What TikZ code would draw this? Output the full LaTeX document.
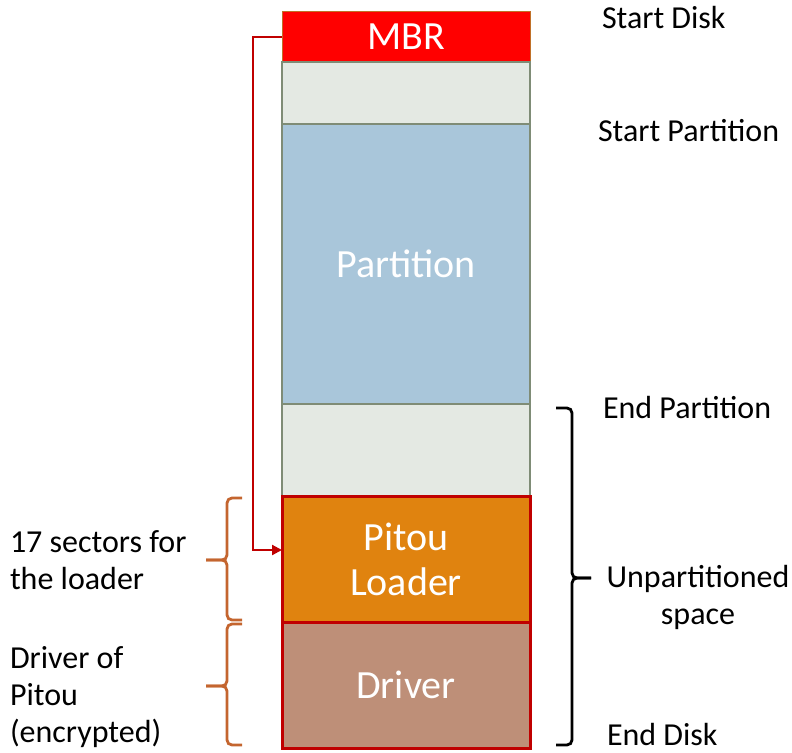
\documentclass[tikz,border=0pt]{standalone}
\usepackage{fontspec}
\setmainfont{Carlito}
\usetikzlibrary{positioning, arrows.meta}

\definecolor{mbrred}{HTML}{FF0000}
\definecolor{mbredge}{HTML}{C07028}
\definecolor{gapgray}{HTML}{E4E9E3}
\definecolor{gapedge}{HTML}{7F8C76}
\definecolor{partblue}{HTML}{A9C6DA}
\definecolor{loaderorange}{HTML}{E0830F}
\definecolor{driverbrown}{HTML}{BE8F78}
\definecolor{darkred}{HTML}{C00000}
\definecolor{bracebrown}{HTML}{C4652F}

\begin{document}
\begin{tikzpicture}[
    x=1pt, y=-1pt,
    every node/.style={outer sep=0pt, inner sep=0pt},
    block/.style={draw, minimum width=248pt, text=white,
        font=\fontsize{40}{45}\selectfont, align=center},
    mbrbox/.style={block, fill=mbrred, draw=mbredge, line width=1pt},
    gapbox/.style={block, fill=gapgray, draw=gapedge, line width=1.2pt},
    partbox/.style={block, fill=partblue, draw=gapedge, line width=1.2pt},
    pitoubox/.style={block, line width=3pt, draw=darkred},
    label/.style={font=\fontsize{32}{37}\selectfont, align=left, anchor=west},
    sidebrace/.style={line width=2.8pt, rounded corners=5pt}
]
    \useasboundingbox (0,0) rectangle (792,752);

    % Disk layout, top to bottom
    \node[mbrbox, anchor=north west, minimum height=50pt] (mbr) at (282,12) {MBR};
    \node[gapbox, below=0pt of mbr, minimum height=62pt] (gap1) {};
    \node[partbox, below=0pt of gap1, minimum height=280pt] (part) {Partition};
    \node[gapbox, below=0pt of part, minimum height=92pt] (gap2) {};
    \node[pitoubox, fill=loaderorange, below=0pt of gap2, minimum height=126pt] (loader) {Pitou\\Loader};
    \node[pitoubox, fill=driverbrown, below=0pt of loader, minimum height=126pt] (driver) {Driver};

    % Right side labels
    \node[label] (sdisk) at (602,18) {Start Disk};
    \node[label] (spart) at (598,131) {Start Partition};
    \node[label] (epart) at (603,408) {End Partition};
    \node[label] (edisk) at (607,734) {End Disk};
    \node[font=\fontsize{32}{37}\selectfont, align=center] (unpart) at (698,597) {Unpartitioned\\space};

    % Left side labels
    \node[label] (sectors) at (10,560) {17 sectors for\\the loader};
    \node[label] (drvnote) at (10,697) {Driver of\\Pitou\\(encrypted)};

    % MBR jumps to the loader
    \coordinate (bend) at (253,0);
    \draw[darkred, line width=2.2pt, -{Triangle[length=10pt, width=10pt]}]
        (mbr.west) -- (bend |- mbr.west) -- (bend |- 0,550) -- (loader.west |- 0,550);

    % Braces
    \draw[sidebrace, bracebrown] (242,498) -- (227,498) -- (227,560) -- (206,560);
    \draw[sidebrace, bracebrown] (206,560) -- (227,560) -- (227,620) -- (242,620);
    \draw[sidebrace, bracebrown] (242,624) -- (227,624) -- (227,686) -- (206,686);
    \draw[sidebrace, bracebrown] (206,686) -- (227,686) -- (227,745) -- (242,745);
    \draw[sidebrace, black] (556,408) -- (572,408) -- (572,578) -- (591,578);
    \draw[sidebrace, black] (591,578) -- (572,578) -- (572,745) -- (556,745);
\end{tikzpicture}
\end{document}
